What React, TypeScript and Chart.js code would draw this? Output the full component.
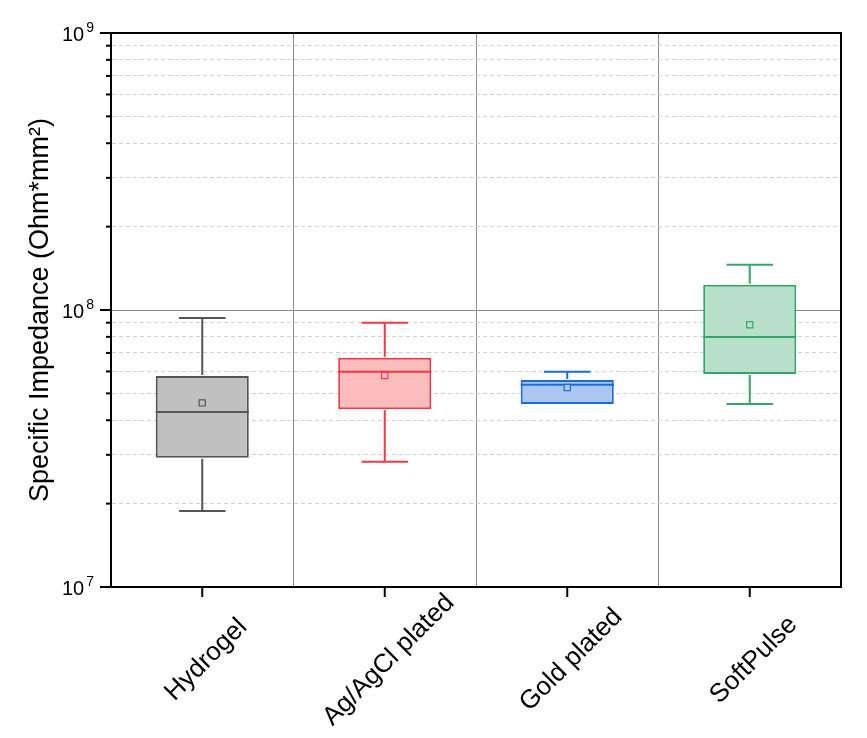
import React, { useEffect, useRef } from "react";
import { Chart, registerables } from "chart.js";

Chart.register(...registerables);

const CATEGORIES = ["Hydrogel", "Ag/AgCl plated", "Gold plated", "SoftPulse"];
const WHISKER_MIN = [1.88e7, 2.83e7, 4.58e7, 4.58e7];
const Q1 = [2.93e7, 4.38e7, 4.58e7, 5.88e7];
const MEDIAN = [4.28e7, 5.98e7, 5.37e7, 7.99e7];
const MEAN = [4.62e7, 5.8e7, 5.25e7, 8.85e7];
const Q3 = [5.78e7, 6.73e7, 5.59e7, 1.234e8];
const WHISKER_MAX = [9.36e7, 9.0e7, 5.98e7, 1.457e8];

const STROKES = ["#555555", "#ef3a42", "#1a6bdb", "#33a66a"];
const FILLS = ["#c0c0c0", "#fbbcbd", "#abc7f1", "#b8e0ca"];

const Y_MAJOR_TICKS = [1e7, 1e8, 1e9];
const Y_MINOR_STEPS = [2, 3, 4, 5, 6, 7, 8, 9];
const Y_TITLE = "Specific Impedance (Ohm*mm²)";

const FONT = "'Liberation Sans', Arial, sans-serif";

function buildYTicks() {
  const ticks: { value: number; major: boolean }[] = [];
  Y_MAJOR_TICKS.forEach((m, i) => {
    ticks.push({ value: m, major: true });
    if (i < Y_MAJOR_TICKS.length - 1) {
      Y_MINOR_STEPS.forEach((s) => ticks.push({ value: m * s, major: false }));
    }
  });
  return ticks;
}

const boxPlugin = {
  id: "boxWhiskers",
  afterDatasetDraw(chart: any, args: any) {
    if (args.index !== 0) return;
    const ctx = chart.ctx;
    const y = chart.scales.y;
    const meta = chart.getDatasetMeta(0);
    ctx.save();
    ctx.lineWidth = 2;
    ctx.lineCap = "butt";
    meta.data.forEach((bar: any, i: number) => {
      const x = bar.x;
      const w = bar.width;
      const pMax = y.getPixelForValue(WHISKER_MAX[i]);
      const pMin = y.getPixelForValue(WHISKER_MIN[i]);
      const pQ1 = y.getPixelForValue(Q1[i]);
      const pQ3 = y.getPixelForValue(Q3[i]);
      const pMed = y.getPixelForValue(MEDIAN[i]);
      ctx.strokeStyle = STROKES[i];
      ctx.beginPath();
      ctx.moveTo(x, pQ3 - 1);
      ctx.lineTo(x, pMax);
      ctx.moveTo(x - w / 4, pMax);
      ctx.lineTo(x + w / 4, pMax);
      if (pMin - pQ1 > 0.5) {
        ctx.moveTo(x, pQ1 + 1);
        ctx.lineTo(x, pMin);
        ctx.moveTo(x - w / 4, pMin);
        ctx.lineTo(x + w / 4, pMin);
      }
      ctx.moveTo(x - w / 2, pMed);
      ctx.lineTo(x + w / 2, pMed);
      ctx.stroke();
    });
    ctx.restore();
  },
  afterDraw(chart: any) {
    const ctx = chart.ctx;
    const { top, right, left, bottom } = chart.chartArea;
    const y = chart.scales.y;
    const xs = chart.scales.x;
    ctx.save();
    ctx.strokeStyle = "#000";
    ctx.lineWidth = 2;
    ctx.beginPath();
    ctx.moveTo(left - 1, top);
    ctx.lineTo(right, top);
    ctx.lineTo(right, bottom + 1);
    ctx.stroke();
    y.ticks.forEach((t: any) => {
      const py = y.getPixelForValue(t.value);
      const len = t.major ? 10 : 4;
      ctx.beginPath();
      ctx.moveTo(left - len - 1, py);
      ctx.lineTo(left, py);
      ctx.stroke();
      if (t.major) {
        const exp = String(Math.round(Math.log10(t.value)));
        ctx.fillStyle = "#000";
        ctx.font = `14px ${FONT}`;
        ctx.textAlign = "left";
        ctx.textBaseline = "alphabetic";
        const supW = ctx.measureText(exp).width;
        const supX = left - 17 - supW;
        ctx.fillText(exp, supX, py - 1);
        ctx.font = `20px ${FONT}`;
        ctx.textAlign = "right";
        ctx.fillText("10", supX - 2, py + 8);
      }
    });
    CATEGORIES.forEach((label, i) => {
      const px = xs.getPixelForValue(i);
      ctx.beginPath();
      ctx.moveTo(px, bottom);
      ctx.lineTo(px, bottom + 10);
      ctx.stroke();
      ctx.save();
      ctx.translate(px + 4, 660);
      ctx.rotate(-Math.PI / 4);
      ctx.font = `26px ${FONT}`;
      ctx.fillStyle = "#000";
      ctx.textAlign = "center";
      ctx.textBaseline = "middle";
      ctx.fillText(label, 0, 0);
      ctx.restore();
    });
    ctx.restore();
  },
};

export default function App() {
  const ref = useRef<HTMLCanvasElement | null>(null);
  useEffect(() => {
    if (!ref.current) return;
    const chart = new Chart(ref.current, {
      type: "bar",
      data: {
        labels: CATEGORIES,
        datasets: [
          {
            type: "bar",
            data: Q1.map((q, i) => [q, Q3[i]]) as any,
            backgroundColor: FILLS,
            borderColor: STROKES,
            borderWidth: 2,
            borderSkipped: false,
            categoryPercentage: 1,
            barPercentage: 0.51,
            order: 1,
          } as any,
          {
            type: "line",
            data: MEAN,
            showLine: false,
            pointStyle: "rect",
            pointRadius: 4.4,
            pointBorderWidth: 1.2,
            pointBackgroundColor: FILLS,
            pointBorderColor: STROKES,
            order: 0,
          } as any,
        ],
      },
      options: {
        animation: false,
        responsive: true,
        maintainAspectRatio: false,
        events: [],
        layout: { padding: { top: 33, right: 26, left: 0, bottom: 0 } },
        plugins: { legend: { display: false }, tooltip: { enabled: false } },
        scales: {
          x: {
            type: "category",
            offset: true,
            grid: { offset: true, color: "#8c8c8c", lineWidth: 1, drawTicks: false },
            border: { display: true, color: "#000", width: 2 },
            ticks: { display: false },
            afterFit: (s: any) => {
              s.height = 151;
            },
          },
          y: {
            type: "logarithmic",
            min: 1e7,
            max: 1e9,
            afterBuildTicks: (s: any) => {
              s.ticks = buildYTicks();
            },
            grid: {
              drawTicks: false,
              lineWidth: 1,
              color: (c: any) => (c.tick && c.tick.major ? "#8c8c8c" : "#d2d2d2"),
            },
            border: {
              display: true,
              color: "#000",
              width: 2,
              dash: (c: any) => (c.tick && !c.tick.major ? [4, 3] : []),
            },
            ticks: { display: false },
            title: {
              display: true,
              text: Y_TITLE,
              color: "#000",
              font: { family: FONT, size: 27, lineHeight: 1 },
              padding: { top: 27, bottom: 0 },
            },
            afterFit: (s: any) => {
              s.width = 111;
            },
          },
        },
      } as any,
      plugins: [boxPlugin],
    });
    return () => chart.destroy();
  }, []);
  return (
    <div style={{ position: "fixed", left: 0, top: 0, width: 867, height: 738, background: "#fff" }}>
      <canvas ref={ref} />
    </div>
  );
}
